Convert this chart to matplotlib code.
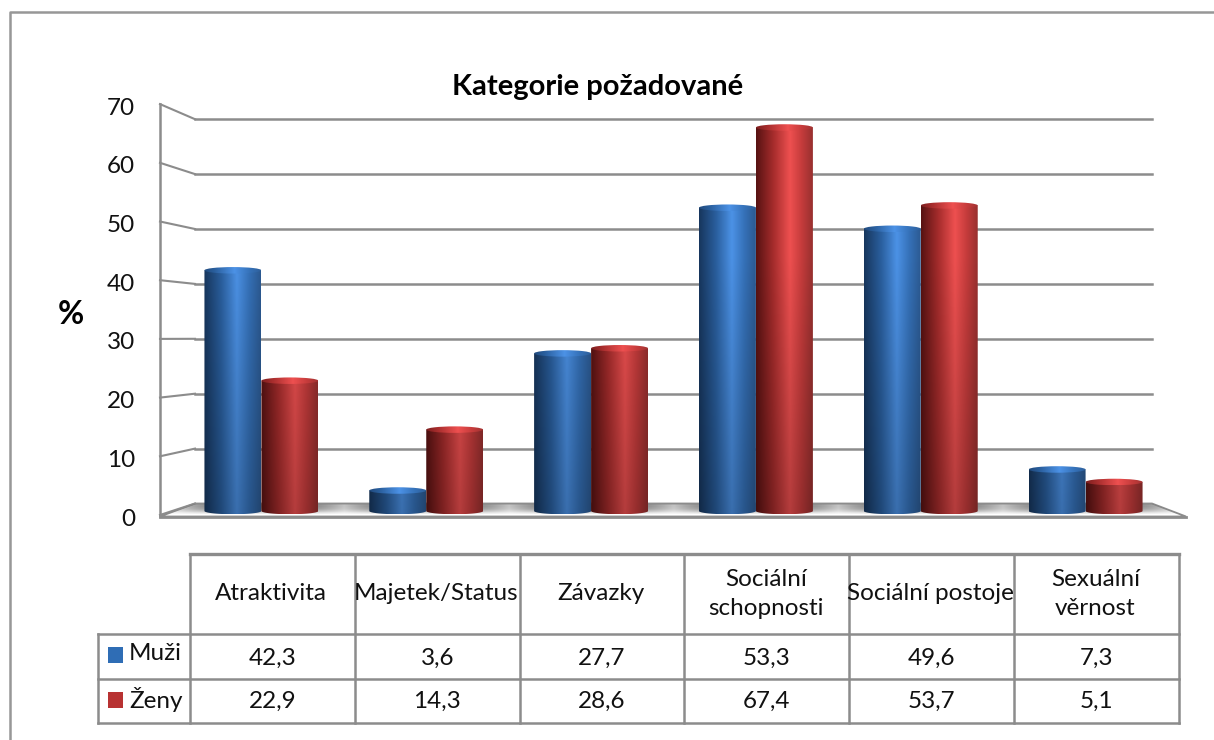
import numpy as np
import matplotlib
matplotlib.use('Agg')
import matplotlib.pyplot as plt
from matplotlib.colors import LinearSegmentedColormap
from matplotlib.patches import Ellipse, PathPatch, Polygon, Rectangle
from matplotlib.path import Path

categories = ['Atraktivita', 'Majetek/Status', 'Závazky', 'Sociální\nschopnosti', 'Sociální postoje', 'Sexuální\nvěrnost']
muzi = [42.3, 3.6, 27.7, 53.3, 49.6, 7.3]
zeny = [22.9, 14.3, 28.6, 67.4, 53.7, 5.1]
y_ticks = [0, 10, 20, 30, 40, 50, 60, 70]

W, H = 1214, 740
GRAY = '#8c8c8c'
plt.rcParams['font.family'] = ['Lato', 'DejaVu Sans']

blue_cm = LinearSegmentedColormap.from_list('b', [(0, '#17365d'), (0.3, '#2a5f9e'), (0.58, '#4c92e6'), (0.8, '#3571b8'), (1, '#2c5a92')])
red_cm = LinearSegmentedColormap.from_list('r', [(0, '#571212'), (0.3, '#a52c2c'), (0.6, '#ee5050'), (0.8, '#c63c3c'), (1, '#98302f')])

fig = plt.figure(figsize=(W / 100, H / 100), dpi=100)
bg = fig.add_axes([0, 0, 1, 1])
bg.set_xlim(0, W)
bg.set_ylim(H, 0)
bg.axis('off')

# outer frame, no right side in the picture
bg.plot([10, 10, 1214], [740, 12, 12], color='#979797', lw=1.8)

# walls and gridlines, px
front_y = lambda v: 515 - v * 5.87
back_y = lambda v: 503.5 - v * 5.49
for v in y_ticks:
    bg.plot([160, 195], [front_y(v), back_y(v)], color=GRAY, lw=1.5)
    if v > 0:
        bg.plot([195, 1152], [back_y(v)] * 2, color=GRAY, lw=1.8)
    bg.text(135, front_y(v) + 4, str(v), ha='right', va='center', fontsize=17.5, color='#111111')
bg.plot([160, 160], [front_y(70), 516], color=GRAY, lw=1.8)

# floor
floor = Polygon([(160, 516.5), (195, 503.5), (1152, 503.5), (1186, 516.5)], closed=True, fc='white', ec=GRAY, lw=1.3)
bg.add_patch(floor)
xs = np.arange(160, 1187)
centers = 261.5 + 164.9 * np.arange(6)
shade = np.max([np.exp(-((xs - c) / 88.0) ** 4) for c in centers], axis=0)
rows = np.array([1, 1, 1, .95, .9, .8, .65, .5, .3, .15, 0, 0])
rgba = np.zeros((12, xs.size, 4))
rgba[..., :3] = 0.5
rgba[..., 3] = np.outer(rows, shade)
im = bg.imshow(rgba, extent=(160, 1186, 516, 504), aspect='auto', zorder=2)
im.set_clip_path(floor)
bg.plot([160, 1186], [516.5, 516.5], color=GRAY, lw=2, zorder=3)
bg.set_xlim(0, W)
bg.set_ylim(H, 0)

bg.text(598, 87, 'Kategorie požadované', ha='center', va='center', fontsize=21, fontweight='bold', color='black')
bg.text(71, 315, '%', ha='center', va='center', fontsize=23, fontweight='bold', color='black')

# bars axes, a bit below zero so the round base is not cut
left, right = 179, 1168
y0, px_per = 511, 5.69
top_v, bottom_v = 75, -2
ax = fig.add_axes([left / W, 1 - (y0 - bottom_v * px_per) / H, (right - left) / W, (top_v - bottom_v) * px_per / H])
ax.axis('off')
ax.patch.set_alpha(0)
ax.set_xlim(-0.5, 5.5)
ax.set_ylim(bottom_v, top_v)

bar_w = 57 / 164.9
ell_h = 6.5 / px_per


def cylinder(x, val, cmap):
    x0 = x - bar_w / 2
    ratio = ell_h / 2
    t = np.linspace(np.pi, 2 * np.pi, 40)
    bx = x + bar_w / 2 * np.cos(t)
    by = ratio * np.sin(t)
    verts = list(zip(bx, by)) + [(x0 + bar_w, val), (x0, val), (bx[0], by[0])]
    body = PathPatch(Path(verts), fc='none', ec='none', transform=ax.transData)
    ax.add_patch(body)
    grad = np.linspace(0, 1, 128)
    # duller towards the floor
    heights = np.linspace(val, -ratio, 100)
    light = 0.76 + 0.24 * np.clip(heights / 45, 0, 1)
    img = cmap(grad)[None, :, :].repeat(100, axis=0)
    img[..., :3] *= light[:, None, None]
    im = ax.imshow(img, extent=(x0, x0 + bar_w, -ratio, val), aspect='auto', zorder=3)
    im.set_clip_path(body)
    cap = Ellipse((x, val), bar_w, ell_h, fc='none', ec='none')
    ax.add_patch(cap)
    im2 = ax.imshow(np.clip(grad * 0.8 + 0.15, 0, 1).reshape(1, -1), extent=(x0, x0 + bar_w, val - ratio, val + ratio), aspect='auto', cmap=cmap, vmin=0, vmax=1, zorder=4)
    im2.set_clip_path(cap)


for i in range(len(categories)):
    cylinder(i - bar_w / 2, muzi[i], blue_cm)
    cylinder(i + bar_w / 2, zeny[i], red_cm)
ax.set_xlim(-0.5, 5.5)
ax.set_ylim(bottom_v, top_v)

# data table, px
col_x = [190 + 164.8 * i for i in range(7)]
row_y = [554, 634, 679, 723]
tc = '#8c8c8c'
bg.plot([col_x[0], col_x[-1]], [row_y[0]] * 2, color=tc, lw=2.4)
for y in row_y[1:]:
    bg.plot([98, col_x[-1]], [y, y], color=tc, lw=1.8)
for x in col_x:
    bg.plot([x, x], [row_y[0], row_y[-1]], color=tc, lw=1.8)
bg.plot([98, 98], [row_y[1], row_y[-1]], color=tc, lw=1.8)
fs = 17.5
for i, name in enumerate(categories):
    cx = (col_x[i] + col_x[i + 1]) / 2
    bg.text(cx - 1, 594, name, ha='center', va='center', fontsize=fs, linespacing=1.45, color='#111111')
    bg.text(cx, 658, str(muzi[i]).replace('.', ','), ha='center', va='center', fontsize=fs, color='#111111')
    bg.text(cx, 701, str(zeny[i]).replace('.', ','), ha='center', va='center', fontsize=fs, color='#111111')
for y, label, col in [(655, 'Muži', '#2f6db5'), (700, 'Ženy', '#b83232')]:
    bg.add_patch(Rectangle((108, y - 8), 15, 16, fc=col, ec='none'))
    bg.text(129, y - 1, label, ha='left', va='center', fontsize=fs, color='#111111')

fig.savefig('out.png', dpi=100)
